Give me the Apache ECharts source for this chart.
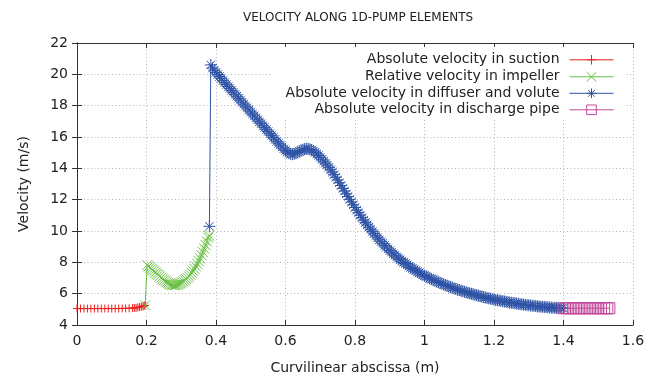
<!DOCTYPE html>
<html>
<head>
<meta charset="utf-8">
<script src="https://cdn.jsdelivr.net/npm/echarts@6/dist/echarts.min.js"></script>
<style>
    html, body { margin: 0; padding: 0; background: #fff; }
    #chart { width: 661px; height: 380px; }
</style>
</head>
<body>
<div id="chart"></div>
<script>
// values
const suctionX = [0, 0.01, 0.02, 0.03, 0.04, 0.05, 0.06, 0.07, 0.08, 0.09, 0.10, 0.11, 0.12, 0.13, 0.14, 0.15, 0.16, 0.165, 0.17, 0.175, 0.18, 0.185, 0.19, 0.193, 0.196];
const suctionY = [5.05, 5.05, 5.05, 5.05, 5.05, 5.05, 5.05, 5.05, 5.05, 5.05, 5.05, 5.05, 5.05, 5.06, 5.06, 5.07, 5.08, 5.09, 5.10, 5.12, 5.14, 5.16, 5.19, 5.22, 5.25];

const impellerX = [0.196, 0.202, 0.206, 0.210, 0.214, 0.218, 0.222, 0.226, 0.230, 0.234, 0.238, 0.242, 0.246, 0.250,
    0.254, 0.258, 0.262, 0.266, 0.270, 0.274, 0.278, 0.282, 0.286, 0.290, 0.294, 0.298, 0.302, 0.306, 0.310,
    0.314, 0.318, 0.322, 0.326, 0.330, 0.334, 0.338, 0.342, 0.346, 0.350, 0.354, 0.358, 0.362, 0.366, 0.370,
    0.374, 0.378, 0.380];
const impellerY = [5.25, 7.82, 7.74, 7.66, 7.58, 7.51, 7.43, 7.35, 7.27, 7.19, 7.10, 7.01, 6.93, 6.86,
    6.79, 6.73, 6.67, 6.62, 6.58, 6.56, 6.55, 6.55, 6.57, 6.59, 6.63, 6.67, 6.72, 6.78, 6.85,
    6.93, 7.01, 7.11, 7.21, 7.33, 7.45, 7.59, 7.74, 7.90, 8.08, 8.26, 8.46, 8.66, 8.88, 9.10,
    9.33, 9.58, 9.71];

const diffuserX = [0.381, 0.385,
    0.390, 0.395, 0.400, 0.405, 0.410, 0.415, 0.420, 0.425, 0.430, 0.435, 0.440, 0.445, 0.450, 0.455, 0.460, 0.465, 0.470, 0.475, 0.480, 0.485, 0.490, 0.495,
    0.500, 0.505, 0.510, 0.515, 0.520, 0.525, 0.530, 0.535, 0.540, 0.545, 0.550, 0.555, 0.560, 0.565, 0.570, 0.575, 0.580, 0.585, 0.590, 0.595,
    0.600, 0.605, 0.610, 0.615, 0.620, 0.625, 0.630, 0.635, 0.640, 0.645, 0.650, 0.655, 0.660, 0.665, 0.670, 0.675, 0.680, 0.685, 0.690, 0.695,
    0.700, 0.705, 0.710, 0.715, 0.720, 0.725, 0.730, 0.735, 0.740, 0.745, 0.750, 0.755, 0.760, 0.765, 0.770, 0.775, 0.780, 0.785, 0.790, 0.795,
    0.800, 0.805, 0.810, 0.815, 0.820, 0.825, 0.830, 0.835, 0.840, 0.845, 0.850, 0.855, 0.860, 0.865, 0.870, 0.875, 0.880, 0.885, 0.890, 0.895,
    0.900, 0.905, 0.910, 0.915, 0.920, 0.925, 0.930, 0.935, 0.940, 0.945, 0.950, 0.955, 0.960, 0.965, 0.970, 0.975, 0.980, 0.985, 0.990, 0.995,
    1.000, 1.005, 1.010, 1.015, 1.020, 1.025, 1.030, 1.035, 1.040, 1.045, 1.050, 1.055, 1.060, 1.065, 1.070, 1.075, 1.080, 1.085, 1.090, 1.095,
    1.100, 1.105, 1.110, 1.115, 1.120, 1.125, 1.130, 1.135, 1.140, 1.145, 1.150, 1.155, 1.160, 1.165, 1.170, 1.175, 1.180, 1.185, 1.190, 1.195,
    1.200, 1.205, 1.210, 1.215, 1.220, 1.225, 1.230, 1.235, 1.240, 1.245, 1.250, 1.255, 1.260, 1.265, 1.270, 1.275, 1.280, 1.285, 1.290, 1.295,
    1.300, 1.305, 1.310, 1.315, 1.320, 1.325, 1.330, 1.335, 1.340, 1.345, 1.350, 1.355, 1.360, 1.365, 1.370, 1.375, 1.380, 1.385, 1.390, 1.395,
    1.400];
const diffuserY = [10.3, 20.6,
    20.40, 20.26, 20.12, 19.99, 19.86, 19.73, 19.60, 19.47, 19.35, 19.22, 19.10, 18.97, 18.85, 18.72, 18.60, 18.47, 18.35, 18.22, 18.10, 17.97, 17.85, 17.72,
    17.60, 17.47, 17.35, 17.22, 17.10, 16.97, 16.85, 16.72, 16.60, 16.47, 16.35, 16.22, 16.10, 15.97, 15.85, 15.72, 15.60, 15.48, 15.36, 15.25,
    15.14, 15.04, 14.96, 14.92, 14.90, 14.92, 14.96, 15.02, 15.08, 15.14, 15.19, 15.23, 15.25, 15.25, 15.22, 15.17, 15.10, 15.02, 14.92, 14.82,
    14.70, 14.58, 14.46, 14.33, 14.20, 14.06, 13.91, 13.76, 13.60, 13.43, 13.26, 13.08, 12.90, 12.72, 12.55, 12.37, 12.20, 12.02, 11.85, 11.67,
    11.50, 11.33, 11.17, 11.01, 10.85, 10.69, 10.54, 10.39, 10.25, 10.11, 9.97, 9.83, 9.70, 9.57, 9.44, 9.32, 9.20, 9.08, 8.97, 8.86,
    8.75, 8.65, 8.55, 8.45, 8.35, 8.26, 8.17, 8.08, 8.00, 7.92, 7.84, 7.76, 7.68, 7.61, 7.54, 7.47, 7.40, 7.33, 7.27, 7.21,
    7.15, 7.09, 7.04, 6.98, 6.93, 6.88, 6.83, 6.78, 6.73, 6.68, 6.64, 6.59, 6.55, 6.50, 6.46, 6.42, 6.38, 6.34, 6.30, 6.26,
    6.23, 6.19, 6.16, 6.12, 6.09, 6.05, 6.02, 5.99, 5.96, 5.93, 5.90, 5.87, 5.84, 5.81, 5.78, 5.75, 5.73, 5.70, 5.68, 5.65,
    5.63, 5.60, 5.58, 5.56, 5.54, 5.52, 5.50, 5.48, 5.46, 5.44, 5.42, 5.40, 5.39, 5.37, 5.35, 5.33, 5.32, 5.30, 5.29, 5.27,
    5.26, 5.24, 5.23, 5.22, 5.21, 5.19, 5.18, 5.17, 5.16, 5.15, 5.14, 5.13, 5.12, 5.11, 5.10, 5.10, 5.09, 5.09, 5.08, 5.08,
    5.07];

const dischargeX = [1.400, 1.409, 1.418, 1.427, 1.436, 1.445, 1.454, 1.463, 1.472, 1.481, 1.490, 1.499, 1.508, 1.517, 1.526, 1.532];
const dischargeY = [5.07, 5.07, 5.07, 5.07, 5.07, 5.07, 5.07, 5.07, 5.07, 5.07, 5.07, 5.07, 5.07, 5.07, 5.07, 5.07];

const names = [
    'Absolute velocity in suction',
    'Relative velocity in impeller',
    'Absolute velocity in diffuser and volute',
    'Absolute velocity in discharge pipe'
];
const colors = ['#f01e1e', '#68c042', '#2f54a6', '#c2479c'];

const FONT = 'DejaVu Sans';
const PLUS = 'path://M0,5L10,5M5,0L5,10';
const CROSS = 'path://M0,0L10,10M10,0L0,10';
const STAR = 'path://M0,5L10,5M5,0L5,10M1.5,1.5L8.5,8.5M8.5,1.5L1.5,8.5';
const SQUARE = 'path://M0,0L10,0L10,10L0,10Z';

const zip = (xs, ys) => xs.map((x, i) => [x, ys[i]]);

const makeSeries = (i, xs, ys, symbol, size) => ({
    name: names[i],
    type: 'line',
    data: zip(xs, ys),
    symbol: symbol,
    symbolSize: size,
    showAllSymbol: true,
    animation: false,
    lineStyle: { color: colors[i], width: 1 },
    itemStyle: { color: 'none', borderColor: colors[i], borderWidth: 1 },
    emphasis: { disabled: true }
});

const legendTops = [52.5, 69.5, 86, 102.5];
const legends = names.map((n, i) => ({
    data: [n],
    right: 47,
    top: legendTops[i],
    align: 'right',
    padding: 0,
    itemWidth: 44,
    itemHeight: 12,
    selectedMode: false,
    textStyle: { fontFamily: FONT, fontSize: 14, color: '#222', padding: [0, 5, 0, 0] },
    itemStyle: { color: 'none', borderColor: colors[i], borderWidth: 1 },
    lineStyle: { color: colors[i], width: 1 }
}));

const axisLine = { show: true, lineStyle: { color: '#333', width: 1 } };
const axisTick = { show: true, inside: true, length: 5, lineStyle: { color: '#333' } };
const gridLine = { show: true, lineStyle: { color: '#b4b4b4', type: [1, 2.5], width: 1 } };

const chart = echarts.init(document.getElementById('chart'));
chart.setOption({
    animation: false,
    backgroundColor: '#fff',
    title: {
        text: 'VELOCITY ALONG 1D-PUMP ELEMENTS',
        left: 238,
        top: 7,
        textStyle: { fontFamily: FONT, fontSize: 12, fontWeight: 'normal', color: '#222' }
    },
    grid: { left: 77, right: 28, top: 43, bottom: 51 },
    legend: legends,
    graphic: [{
        type: 'rect',
        z: 3,
        shape: { x: 272, y: 47, width: 352, height: 71 },
        style: { fill: '#fff' }
    }],
    xAxis: [{
        type: 'value',
        min: 0, max: 1.6, interval: 0.2,
        position: 'bottom',
        name: 'Curvilinear abscissa (m)',
        nameLocation: 'middle',
        nameGap: 36,
        nameTextStyle: { fontFamily: FONT, fontSize: 14, color: '#222' },
        axisLine: axisLine,
        axisTick: axisTick,
        axisLabel: { fontFamily: FONT, fontSize: 14, color: '#222', margin: 9 },
        splitLine: gridLine
    }, {
        type: 'value',
        min: 0, max: 1.6, interval: 0.2,
        position: 'top',
        axisLine: axisLine,
        axisTick: axisTick,
        axisLabel: { show: false },
        splitLine: { show: false }
    }],
    yAxis: [{
        type: 'value',
        min: 4, max: 22, interval: 2,
        position: 'left',
        name: 'Velocity (m/s)',
        nameLocation: 'middle',
        nameGap: 46,
        nameTextStyle: { fontFamily: FONT, fontSize: 14, color: '#222' },
        axisLine: axisLine,
        axisTick: axisTick,
        axisLabel: { fontFamily: FONT, fontSize: 14, color: '#222', margin: 9 },
        splitLine: gridLine
    }, {
        type: 'value',
        min: 4, max: 22, interval: 2,
        position: 'right',
        axisLine: axisLine,
        axisTick: axisTick,
        axisLabel: { show: false },
        splitLine: { show: false }
    }],
    series: [
        makeSeries(0, suctionX, suctionY, PLUS, 8),
        makeSeries(1, impellerX, impellerY, CROSS, 10),
        makeSeries(2, diffuserX, diffuserY, STAR, 12),
        makeSeries(3, dischargeX, dischargeY, SQUARE, 11)
    ]
});
</script>
</body>
</html>
